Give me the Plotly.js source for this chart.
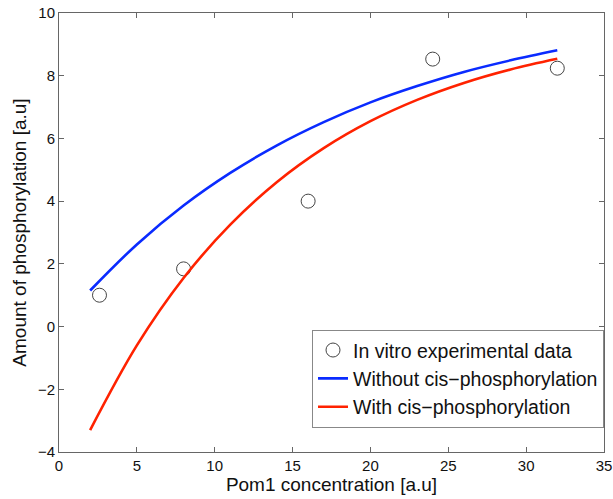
<!DOCTYPE html>
<html>
<head>
<meta charset="utf-8">
<script src="https://cdn.plot.ly/plotly-3.0.1.min.js"></script>
<style>html,body{margin:0;padding:0;background:#fff;}#chart{width:613px;height:499px;}</style>
</head>
<body>
<div id="chart"></div>
<script>
// Experimental data
const expX = [2.6, 8, 16, 24, 32];
const expY = [1.0, 1.84, 4.0, 8.53, 8.24];

// Model curves
const modelX = [2, 5, 8, 11, 14, 17, 20, 23, 26, 29, 32];
const withoutCis = [1.15, 2.62, 3.86, 4.90, 5.78, 6.52, 7.15, 7.67, 8.12, 8.49, 8.81];
const withCis = [-3.30, -0.60, 1.55, 3.25, 4.61, 5.69, 6.55, 7.23, 7.77, 8.20, 8.54];

const names = ["In vitro experimental data", "Without cis\u2212phosphorylation", "With cis\u2212phosphorylation"];
const xTicks = [0, 5, 10, 15, 20, 25, 30, 35];
const yTicks = [-4, -2, 0, 2, 4, 6, 8, 10];

const font = "Liberation Sans, Arial, Helvetica, sans-serif";

const traces = [
  {x: expX, y: expY, mode: "markers", type: "scatter", name: names[0],
   marker: {symbol: "circle-open", size: 14, color: "#444", line: {width: 1, color: "#444"}}},
  {x: modelX, y: withoutCis, mode: "lines", type: "scatter", name: names[1],
   line: {color: "#0a2bff", width: 2.6, shape: "spline"}},
  {x: modelX, y: withCis, mode: "lines", type: "scatter", name: names[2],
   line: {color: "#ff2200", width: 2.6, shape: "spline"}}
];

const axisCommon = {
  showgrid: false, zeroline: false, showline: true, linecolor: "#666", linewidth: 1,
  mirror: "ticks", ticks: "inside", ticklen: 5, tickcolor: "#666", tickwidth: 1,
  tickfont: {family: font, size: 15, color: "#111"}
};

const layout = {
  width: 613, height: 499,
  margin: {l: 59, r: 9, t: 13, b: 47},
  paper_bgcolor: "#fff", plot_bgcolor: "#fff",
  showlegend: true,
  font: {family: font, color: "#111"},
  xaxis: Object.assign({}, axisCommon, {
    range: [0, 35], tickvals: xTicks, ticktext: xTicks.map(String),
    title: {text: "Pom1 concentration [a.u]", font: {family: font, size: 19, color: "#111"}, standoff: 1}
  }),
  yaxis: Object.assign({}, axisCommon, {
    range: [-4, 10], tickvals: yTicks,
    title: {text: "Amount of phosphorylation [a.u]", font: {family: font, size: 19, color: "#111"}, standoff: 6}
  }),
  legend: {
    x: 1, xanchor: "right", y: 0.055, yanchor: "bottom",
    bgcolor: "#fff", bordercolor: "#888", borderwidth: 1,
    font: {family: font, size: 19.5, color: "#111"}
  }
};

Plotly.newPlot("chart", traces, layout, {displayModeBar: false, staticPlot: true});
</script>
</body>
</html>
